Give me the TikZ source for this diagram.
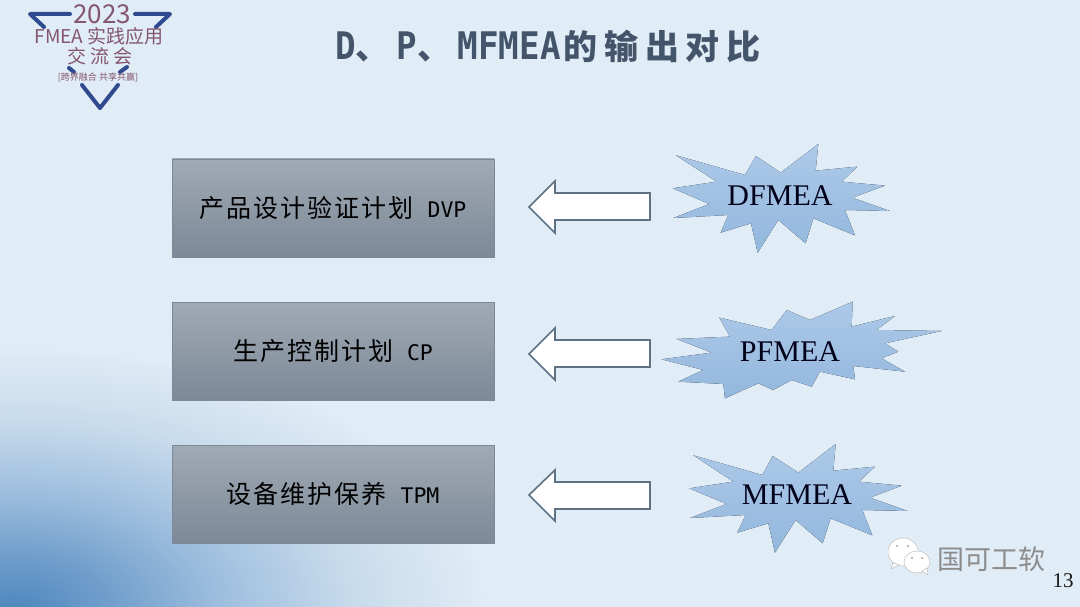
\documentclass[tikz,border=0pt]{standalone}
\usepackage{fontspec}
\setmainfont{Liberation Serif}
\newfontfamily\cjkbox[LetterSpace=8]{Noto Sans CJK SC}
\newfontfamily\cjktitle[LetterSpace=19.7]{Noto Sans CJK SC}
\newfontfamily\cjklogo{Noto Sans CJK SC}
\newfontfamily\monobox{DejaVu Sans Mono}
\newfontfamily\monotitle[FakeStretch=0.9]{DejaVu Sans Mono}
\definecolor{bgbase}{HTML}{E0ECF6}
\definecolor{titleink}{HTML}{44546A}
\definecolor{boxtop}{HTML}{A0AAB4}
\definecolor{boxbot}{HTML}{7D8998}
\definecolor{startop}{HTML}{ADC9E8}
\definecolor{starbot}{HTML}{93B7DD}
\definecolor{logoblue}{HTML}{2F4A8F}
\definecolor{logotext}{HTML}{85566F}
\definecolor{arrowline}{HTML}{5E7283}
\pgfdeclareradialshading{bgglow}{\pgfpoint{0bp}{0bp}}{
  rgb(0bp)=(0.31,0.533,0.745);
  rgb(5bp)=(0.44,0.62,0.80);
  rgb(11bp)=(0.62,0.745,0.87);
  rgb(18bp)=(0.784,0.859,0.925);
  rgb(25bp)=(0.878,0.925,0.965);
  rgb(50bp)=(0.878,0.925,0.965)}
\tikzset{
  x=1pt,y=-1pt,
  planbox/.style={draw=boxbot,line width=0.6pt,top color=boxtop,bottom color=boxbot,minimum width=322pt,minimum height=98pt,inner sep=0pt,text=black,font=\fontsize{25}{25}\selectfont},
  blockarrow/.style={draw=arrowline,fill=white,line width=1.6pt,line join=miter},
  burst/.style={top color=startop,bottom color=starbot,draw=none},
  burstlabel/.style={font=\fontsize{30}{30}\selectfont,text=black!90!blue,inner sep=0pt},
  logostroke/.style={draw=logoblue,line width=4pt,line cap=round,line join=round},
  logolabel/.style={text=logotext,inner sep=0pt},
  bubble/.style={fill=white,draw=black!25,line width=0.5pt},
  eye/.style={fill=black!35,draw=none}
}
\begin{document}
\begin{tikzpicture}
\useasboundingbox (0,0) rectangle (1080,607);
\fill[bgbase] (0,0) rectangle (1080,607);
\begin{scope}
  \clip (0,0) rectangle (1080,607);
  \shade[shading=bgglow] (15,607) ellipse [x radius=470,y radius=260];
\end{scope}
% logo
\draw[logostroke] (70,14) -- (30,14) -- (44,27);
\draw[logostroke] (135,14) -- (170,14) -- (156,27);
\draw[logostroke] (69,68) -- (74,72);
\draw[logostroke] (120,72) -- (127,67);
\draw[logostroke] (82,85) -- (100,108) -- (118,85);
\node[logolabel,font=\fontsize{26}{26}\selectfont\cjklogo] (logoyear) at (102,14) {2023};
\node[logolabel,font=\fontsize{19}{19}\selectfont\cjklogo] (logoname) at (99,36) {FMEA 实践应用};
\node[logolabel,font=\fontsize{19}{19}\selectfont\cjklogo] (logoconf) at (100,56) {交 流 会};
\node[logolabel,font=\fontsize{9}{9}\selectfont\cjklogo] (logomotto) at (98,77) {[跨界融合 共享共赢]};
% title
\node[anchor=base west,inner sep=0pt,text=titleink] (title) at (335,60)
  {\bfseries\fontsize{38}{38}\selectfont\monotitle D{\fontsize{34}{34}\selectfont\cjktitle 、}\hspace{6.7pt}P{\fontsize{34}{34}\selectfont\cjktitle 、}\hspace{6.7pt}MFMEA{\hspace{3pt}\fontsize{34}{34}\selectfont\cjktitle 的输出对比}};
% boxes
\node[planbox] (dvp) at (333,208) {\cjkbox 产品设计验证计划\hspace{14pt}\monobox\fontsize{21.5}{22}\selectfont DVP};
\node[planbox] (cp) at (333,351) {\cjkbox 生产控制计划\hspace{14pt}\monobox\fontsize{21.5}{22}\selectfont CP};
\node[planbox] (tpm) at (333,494) {\cjkbox 设备维护保养\hspace{14pt}\monobox\fontsize{21.5}{22}\selectfont TPM};
% arrows
\draw[blockarrow] (650,193) -- (555,193) -- (555,181) -- (529,207) -- (555,233) -- (555,220) -- (650,220) -- cycle;
\draw[blockarrow] (650,340) -- (555,340) -- (555,328) -- (529,354) -- (555,380) -- (555,367) -- (650,367) -- cycle;
\draw[blockarrow] (650,482) -- (555,482) -- (555,470) -- (529,495) -- (555,521) -- (555,509) -- (650,509) -- cycle;
% bursts
\begin{scope}[shift={(650,130)},x=0.3333pt,y=-0.3333pt]
\fill[burst] (78,76)--(285,135)--(318,78)--(392,128)--(505,42)--(497,122)--(622,110)--(575,155)--(705,167)--(607,203)--(720,243)--(585,240)--(615,316)--(490,265)--(467,340)--(385,270)--(323,368)--(303,280)--(212,308)--(235,255)--(70,264)--(178,222)--(68,175)--(200,155)--cycle;
\fill[burst] (208,563)--(365,600)--(410,540)--(480,570)--(608,515)--(605,590)--(735,558)--(680,600)--(875,603)--(705,640)--(745,665)--(695,685)--(765,725)--(610,708)--(615,748)--(510,725)--(485,770)--(425,750)--(370,780)--(325,760)--(225,805)--(220,762)--(85,755)--(160,720)--(35,688)--(185,668)--(80,627)--(240,620)--cycle;
\end{scope}
\begin{scope}[shift={(680,430)},x=0.3333pt,y=-0.3333pt]
\fill[burst] (40,76)--(247,135)--(278,78)--(355,128)--(467,42)--(460,122)--(585,110)--(537,155)--(665,167)--(570,203)--(683,243)--(547,240)--(577,316)--(452,265)--(428,340)--(347,270)--(285,368)--(265,280)--(172,308)--(197,255)--(30,264)--(140,222)--(28,175)--(160,155)--cycle;
\end{scope}
\node[burstlabel] (dfmea) at (780,196) {DFMEA};
\node[burstlabel] (pfmea) at (790,352) {PFMEA};
\node[burstlabel] (mfmea) at (797,495) {MFMEA};
% watermark
\fill[bubble] (903,552) ellipse [x radius=15,y radius=14];
\fill[bubble] (893,563) -- (891,569) -- (899,565) -- cycle;
\fill[eye] (897,546) circle [radius=1.2];
\fill[eye] (908,546) circle [radius=1.2];
\fill[bubble] (917,562) ellipse [x radius=13,y radius=11];
\fill[bubble] (922,571) -- (928,575) -- (927,568) -- cycle;
\fill[eye] (912,558) circle [radius=1.2];
\fill[eye] (922,558) circle [radius=1.2];
\node[inner sep=0pt,text=black!45,font=\fontsize{27}{27}\selectfont\cjklogo] (mark) at (991,559) {国可工软};
\node[inner sep=0pt,text=black!90,font=\fontsize{21}{21}\selectfont] (pageno) at (1063,581) {13};
\end{tikzpicture}
\end{document}
